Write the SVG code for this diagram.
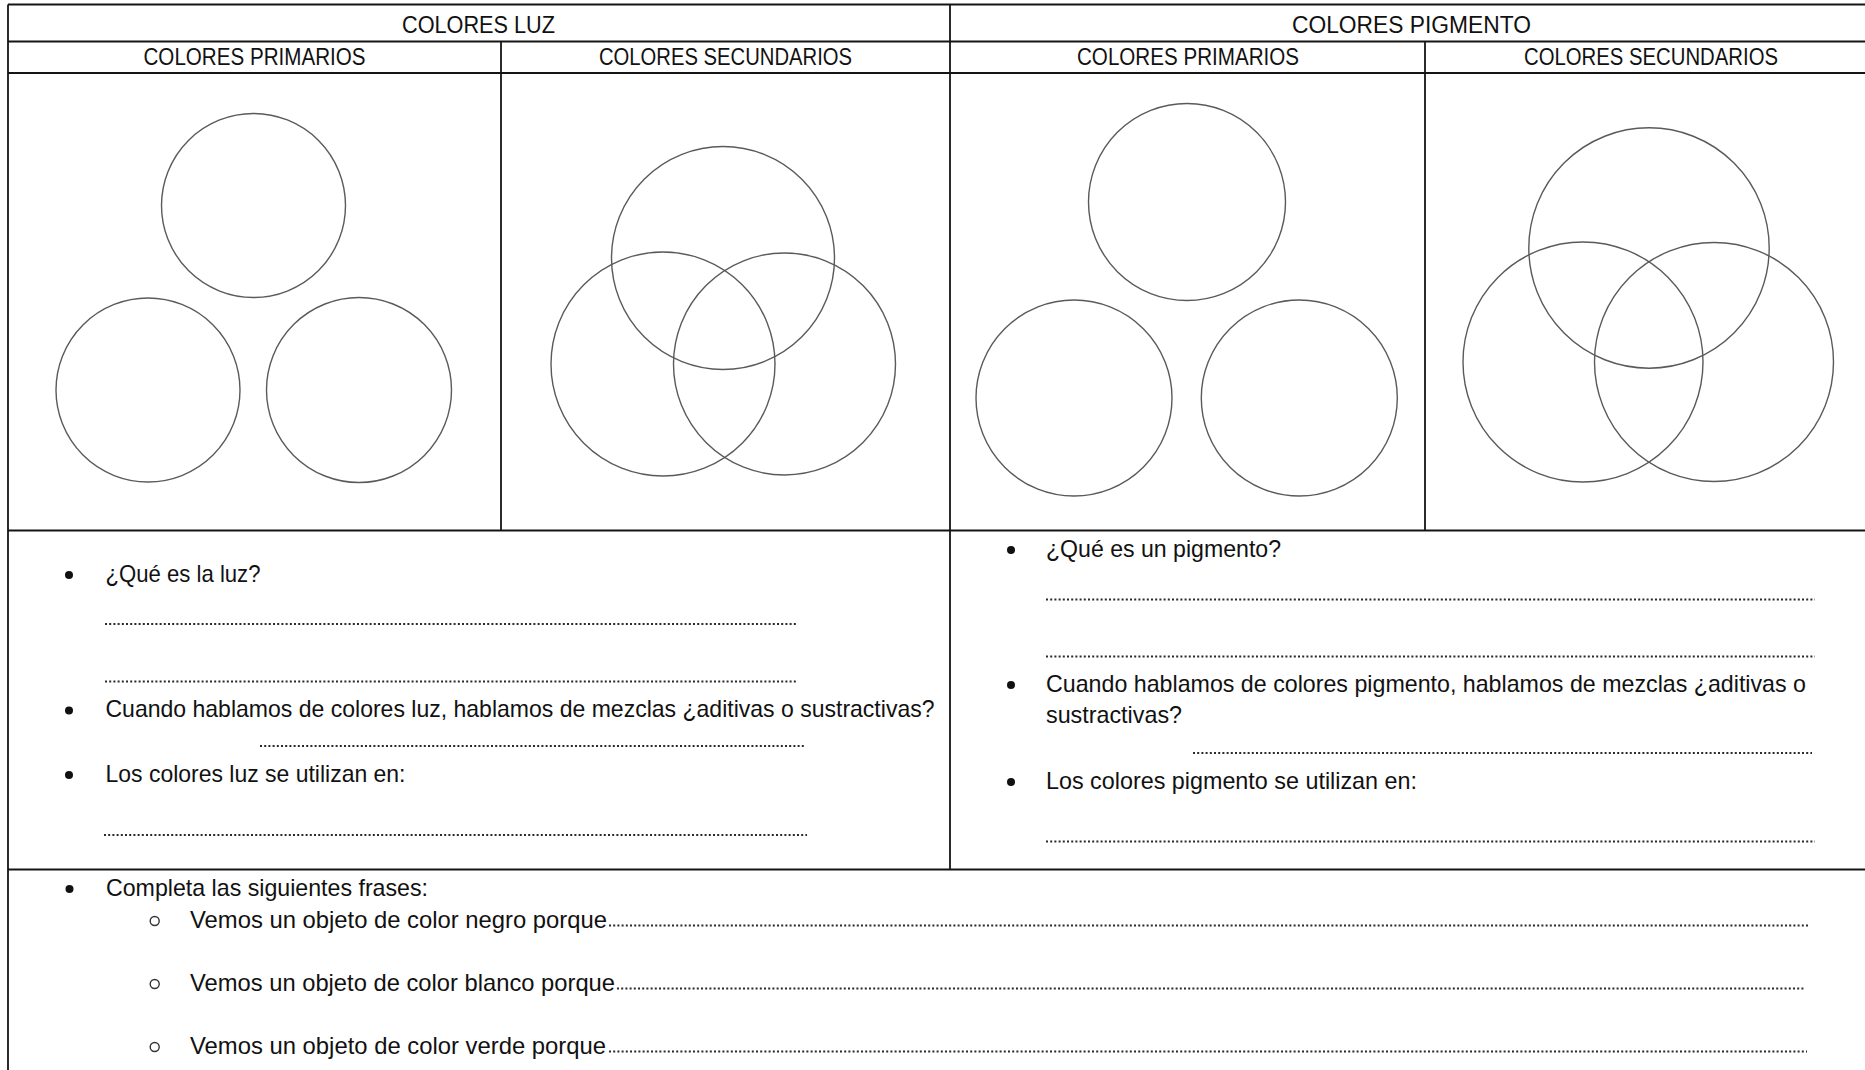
<svg xmlns="http://www.w3.org/2000/svg" width="1865" height="1070" viewBox="0 0 1865 1070">
<style>
.bg{fill:#ffffff}
.grid{stroke:#151515;stroke-width:1.8;fill:none}
.circ{fill:none;stroke:#5a5a5a;stroke-width:1.4}
.t{font-family:"Liberation Sans",Arial,sans-serif;font-size:24px;fill:#111}
.h{font-family:"Liberation Sans",Arial,sans-serif;font-size:23.5px;fill:#111}
.dots{stroke:#2a2a2a;stroke-width:2;stroke-dasharray:2 2.2;fill:none}
.bul{fill:#111}
.sub{fill:none;stroke:#333;stroke-width:1.4}
</style>
<rect class="bg" x="0" y="0" width="1865" height="1070"/>
<g id="table-grid">
  <line class="grid" x1="8" y1="4.5" x2="1866" y2="4.5"/>
  <line class="grid" x1="8" y1="41.5" x2="1866" y2="41.5"/>
  <line class="grid" x1="8" y1="73" x2="1866" y2="73"/>
  <line class="grid" x1="8" y1="530.5" x2="1866" y2="530.5"/>
  <line class="grid" x1="8" y1="869.5" x2="1866" y2="869.5"/>
  <line class="grid" x1="8" y1="4.5" x2="8" y2="1071"/>
  <line class="grid" x1="950" y1="4.5" x2="950" y2="869.5"/>
  <line class="grid" x1="501" y1="41.5" x2="501" y2="530.5"/>
  <line class="grid" x1="1425" y1="41.5" x2="1425" y2="530.5"/>
</g>
<g id="headers">
  <text class="h" x="402" y="32.5" textLength="153" lengthAdjust="spacingAndGlyphs">COLORES LUZ</text>
  <text class="h" x="1292" y="32.5" textLength="239" lengthAdjust="spacingAndGlyphs">COLORES PIGMENTO</text>
  <text class="h" x="143.5" y="65" textLength="222" lengthAdjust="spacingAndGlyphs">COLORES PRIMARIOS</text>
  <text class="h" x="599" y="65" textLength="253" lengthAdjust="spacingAndGlyphs">COLORES SECUNDARIOS</text>
  <text class="h" x="1077" y="65" textLength="222" lengthAdjust="spacingAndGlyphs">COLORES PRIMARIOS</text>
  <text class="h" x="1524" y="65" textLength="254" lengthAdjust="spacingAndGlyphs">COLORES SECUNDARIOS</text>
</g>
<g id="luz-primarios">
  <circle class="circ" cx="253.5" cy="205.5" r="92"/>
  <circle class="circ" cx="148" cy="390" r="92"/>
  <circle class="circ" cx="359" cy="390" r="92.5"/>
</g>
<g id="luz-secundarios">
  <circle class="circ" cx="723" cy="258" r="111.5"/>
  <circle class="circ" cx="663" cy="364" r="112"/>
  <circle class="circ" cx="784.5" cy="364" r="111"/>
</g>
<g id="pigmento-primarios">
  <circle class="circ" cx="1187" cy="202" r="98.5"/>
  <circle class="circ" cx="1074" cy="398" r="98"/>
  <circle class="circ" cx="1299.3" cy="398" r="98"/>
</g>
<g id="pigmento-secundarios">
  <circle class="circ" cx="1649" cy="248" r="120.2"/>
  <circle class="circ" cx="1583" cy="362" r="120"/>
  <circle class="circ" cx="1714" cy="362" r="119.5"/>
</g>
<g id="preguntas-luz">
  <circle class="bul" cx="69" cy="575" r="4"/>
  <text class="t" x="105.5" y="581.5" textLength="155" lengthAdjust="spacingAndGlyphs">¿Qué es la luz?</text>
  <line class="dots" x1="105" y1="624" x2="797" y2="624"/>
  <line class="dots" x1="105" y1="681.5" x2="797" y2="681.5"/>
  <circle class="bul" cx="69" cy="710.5" r="4"/>
  <text class="t" x="105.5" y="717" textLength="829" lengthAdjust="spacingAndGlyphs">Cuando hablamos de colores luz, hablamos de mezclas ¿aditivas o sustractivas?</text>
  <line class="dots" x1="260" y1="746" x2="804" y2="746"/>
  <circle class="bul" cx="69" cy="775" r="4"/>
  <text class="t" x="105.5" y="781.5" textLength="300" lengthAdjust="spacingAndGlyphs">Los colores luz se utilizan en:</text>
  <line class="dots" x1="104" y1="835" x2="807" y2="835"/>
</g>
<g id="preguntas-pigmento">
  <circle class="bul" cx="1011" cy="550" r="4"/>
  <text class="t" x="1046" y="556.5" textLength="235" lengthAdjust="spacingAndGlyphs">¿Qué es un pigmento?</text>
  <line class="dots" x1="1046" y1="599.5" x2="1815" y2="599.5"/>
  <line class="dots" x1="1046" y1="656.5" x2="1815" y2="656.5"/>
  <circle class="bul" cx="1011" cy="685" r="4"/>
  <text class="t" x="1046" y="691.5" textLength="760" lengthAdjust="spacingAndGlyphs">Cuando hablamos de colores pigmento, hablamos de mezclas ¿aditivas o</text>
  <text class="t" x="1046" y="722.5" textLength="136" lengthAdjust="spacingAndGlyphs">sustractivas?</text>
  <line class="dots" x1="1193" y1="753" x2="1812" y2="753"/>
  <circle class="bul" cx="1011" cy="782" r="4"/>
  <text class="t" x="1046" y="788.5" textLength="371" lengthAdjust="spacingAndGlyphs">Los colores pigmento se utilizan en:</text>
  <line class="dots" x1="1046" y1="841.5" x2="1815" y2="841.5"/>
</g>
<g id="completa-frases">
  <circle class="bul" cx="69.5" cy="889" r="4"/>
  <text class="t" x="106" y="895.5" textLength="322" lengthAdjust="spacingAndGlyphs">Completa las siguientes frases:</text>
  <circle class="sub" cx="154.7" cy="921" r="4.5"/>
  <text class="t" x="190" y="927.5" textLength="417" lengthAdjust="spacingAndGlyphs">Vemos un objeto de color negro porque</text>
  <line class="dots" x1="609" y1="925.5" x2="1808" y2="925.5"/>
  <circle class="sub" cx="154.7" cy="984" r="4.5"/>
  <text class="t" x="190" y="990.5" textLength="425" lengthAdjust="spacingAndGlyphs">Vemos un objeto de color blanco porque</text>
  <line class="dots" x1="617" y1="988.5" x2="1804" y2="988.5"/>
  <circle class="sub" cx="154.7" cy="1047" r="4.5"/>
  <text class="t" x="190" y="1053.5" textLength="416" lengthAdjust="spacingAndGlyphs">Vemos un objeto de color verde porque</text>
  <line class="dots" x1="609" y1="1051.5" x2="1807" y2="1051.5"/>
</g>
</svg>
